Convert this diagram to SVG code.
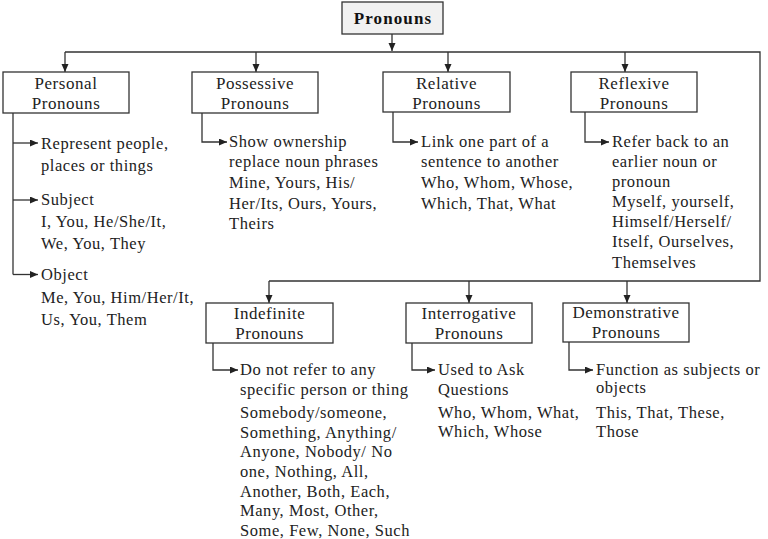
<svg xmlns="http://www.w3.org/2000/svg" width="768" height="539" viewBox="0 0 768 539">
<style>
.box{fill:#fff;stroke:#333;stroke-width:1.3}
.root{fill:#f1f1f1;stroke:#333;stroke-width:1.3}
.lbl{font-family:"Liberation Serif","Times New Roman",serif;font-size:17px;letter-spacing:0.55px;fill:#222;text-anchor:middle}
.ttl{font-family:"Liberation Serif","Times New Roman",serif;font-size:17px;letter-spacing:1.1px;font-weight:bold;fill:#111;text-anchor:middle}
.txt{font-family:"Liberation Serif","Times New Roman",serif;font-size:16.5px;letter-spacing:0.55px;fill:#222}
.ln{fill:none;stroke:#333;stroke-width:1.3}
.ar{fill:none;stroke:#333;stroke-width:1.3;marker-end:url(#ah)}
</style>
<defs>
<marker id="ah" markerUnits="userSpaceOnUse" markerWidth="9" markerHeight="8" refX="8" refY="3.5" orient="auto">
<path d="M0,0 L8,3.5 L0,7 z" fill="#222"/>
</marker>
</defs>
<rect width="768" height="539" fill="#fff"/>
<g id="connectors">
<line class="ar" x1="392" y1="34" x2="392" y2="51"/>
<polyline class="ln" points="65,52 760,52 760,281 269,281"/>
<line class="ar" x1="65" y1="52" x2="65" y2="72"/>
<line class="ar" x1="256" y1="52" x2="256" y2="72"/>
<line class="ar" x1="448" y1="52" x2="448" y2="72"/>
<line class="ar" x1="625" y1="52" x2="625" y2="72"/>
<line class="ar" x1="269" y1="281" x2="269" y2="303"/>
<line class="ar" x1="469" y1="281" x2="469" y2="303"/>
<line class="ar" x1="627" y1="281" x2="627" y2="303"/>
<line class="ln" x1="13" y1="113" x2="13" y2="274.5"/>
<polyline class="ar" points="13,143 38,143"/>
<polyline class="ar" points="13,200 38,200"/>
<polyline class="ar" points="13,274.5 38,274.5"/>
<polyline class="ar" points="202,113 202,142 227,142"/>
<polyline class="ar" points="393,112 393,142 418,142"/>
<polyline class="ar" points="585,112 585,142 609,142"/>
<polyline class="ar" points="213,343 213,370 238,370"/>
<polyline class="ar" points="412,343 412,370 435,370"/>
<polyline class="ar" points="569,342 569,370 593,370"/>
</g>
<g id="pronouns">
<rect class="root" x="342" y="2" width="101" height="32"/>
<text class="ttl" x="393" y="24">Pronouns</text>
</g>
<g id="personal">
<rect class="box" x="3" y="72" width="126" height="41"/>
<text class="lbl" x="66" y="89">Personal</text>
<text class="lbl" x="66" y="109">Pronouns</text>
</g>
<g id="personal-notes" class="txt">
<text x="41" y="149">Represent people,</text>
<text x="41" y="171">places or things</text>
<text x="41" y="205">Subject</text>
<text x="41" y="227">I, You, He/She/It,</text>
<text x="41" y="249">We, You, They</text>
<text x="41" y="280">Object</text>
<text x="41" y="303">Me, You, Him/Her/It,</text>
<text x="41" y="325">Us, You, Them</text>
</g>
<g id="possessive">
<rect class="box" x="192" y="72" width="126" height="41"/>
<text class="lbl" x="255" y="89">Possessive</text>
<text class="lbl" x="255" y="109">Pronouns</text>
</g>
<g id="possessive-notes" class="txt">
<text x="229" y="147">Show ownership</text>
<text x="229" y="167">replace noun phrases</text>
<text x="229" y="188">Mine, Yours, His/</text>
<text x="229" y="209">Her/Its, Ours, Yours,</text>
<text x="229" y="229">Theirs</text>
</g>
<g id="relative">
<rect class="box" x="383" y="72" width="127" height="40"/>
<text class="lbl" x="446.5" y="89">Relative</text>
<text class="lbl" x="446.5" y="109">Pronouns</text>
</g>
<g id="relative-notes" class="txt">
<text x="421" y="147">Link one part of a</text>
<text x="421" y="167">sentence to another</text>
<text x="421" y="188">Who, Whom, Whose,</text>
<text x="421" y="209">Which, That, What</text>
</g>
<g id="reflexive">
<rect class="box" x="571" y="72" width="126" height="40"/>
<text class="lbl" x="634" y="89">Reflexive</text>
<text class="lbl" x="634" y="109">Pronouns</text>
</g>
<g id="reflexive-notes" class="txt">
<text x="612" y="147">Refer back to an</text>
<text x="612" y="167">earlier noun or</text>
<text x="612" y="187">pronoun</text>
<text x="612" y="206.5">Myself, yourself,</text>
<text x="612" y="227">Himself/Herself/</text>
<text x="612" y="247">Itself, Ourselves,</text>
<text x="612" y="267.5">Themselves</text>
</g>
<g id="indefinite">
<rect class="box" x="206" y="303" width="127" height="40"/>
<text class="lbl" x="269.5" y="319">Indefinite</text>
<text class="lbl" x="269.5" y="339">Pronouns</text>
</g>
<g id="indefinite-notes" class="txt">
<text x="240" y="375">Do not refer to any</text>
<text x="240" y="395">specific person or thing</text>
<text x="240" y="418">Somebody/someone,</text>
<text x="240" y="437.5">Something, Anything/</text>
<text x="240" y="457">Anyone, Nobody/ No</text>
<text x="240" y="477">one, Nothing, All,</text>
<text x="240" y="496.5">Another, Both, Each,</text>
<text x="240" y="516">Many, Most, Other,</text>
<text x="240" y="535.5">Some, Few, None, Such</text>
</g>
<g id="interrogative">
<rect class="box" x="406" y="303" width="126" height="40"/>
<text class="lbl" x="469" y="319">Interrogative</text>
<text class="lbl" x="469" y="339">Pronouns</text>
</g>
<g id="interrogative-notes" class="txt">
<text x="438" y="375">Used to Ask</text>
<text x="438" y="395">Questions</text>
<text x="438" y="418">Who, Whom, What,</text>
<text x="438" y="437">Which, Whose</text>
</g>
<g id="demonstrative">
<rect class="box" x="563" y="303" width="126" height="39"/>
<text class="lbl" x="626" y="318">Demonstrative</text>
<text class="lbl" x="626" y="338">Pronouns</text>
</g>
<g id="demonstrative-notes" class="txt">
<text x="596" y="375">Function as subjects or</text>
<text x="596" y="393">objects</text>
<text x="596" y="417.5">This, That, These,</text>
<text x="596" y="436.5">Those</text>
</g>
</svg>
